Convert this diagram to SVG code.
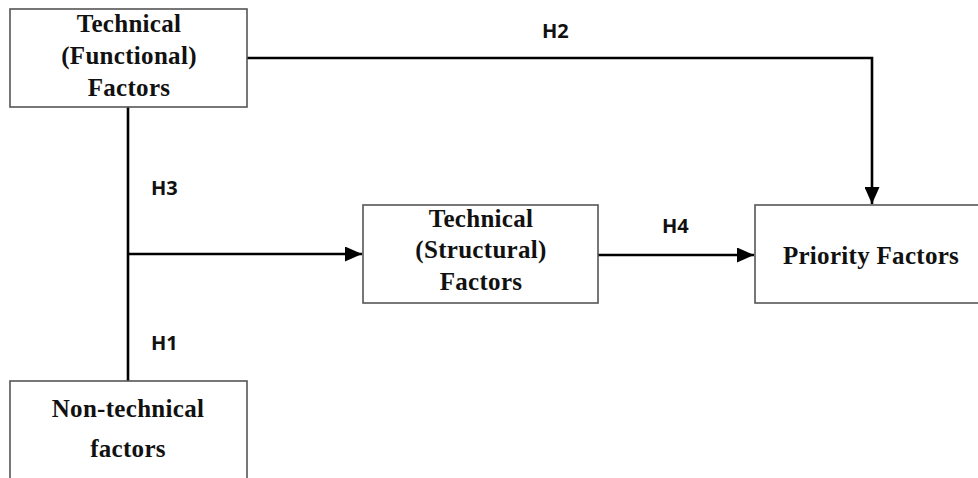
<svg xmlns="http://www.w3.org/2000/svg" width="978" height="478" viewBox="0 0 978 478">
<style>
.box{fill:#fff;stroke:#555;stroke-width:1.6}
.t{font-family:"Liberation Serif","Times New Roman",serif;font-weight:bold;font-size:25px;letter-spacing:0.3px;fill:#111;text-anchor:middle}
.h{font-family:"Open Sans","Liberation Sans",sans-serif;font-weight:bold;font-size:20px;fill:#111}
.c{fill:none;stroke:#000;stroke-width:2.6}
</style>
<defs>
<marker id="ar" viewBox="0 0 17 15" refX="17" refY="7.5" markerWidth="17" markerHeight="15" markerUnits="userSpaceOnUse" orient="auto">
<path d="M0,0 L17,7.5 L0,15 Z" fill="#000"/>
</marker>
</defs>
<rect width="978" height="478" fill="#fff"/>
<g id="connectors">
<path class="c" d="M128,107 V381"/>
<path class="c" d="M128,254 H362" marker-end="url(#ar)"/>
<path class="c" d="M247,58 H872 V204" marker-end="url(#ar)"/>
<path class="c" d="M598,255 H754" marker-end="url(#ar)"/>
<text class="h" x="542" y="38">H2</text>
<text class="h" x="151" y="195">H3</text>
<text class="h" x="662" y="233">H4</text>
<text class="h" x="151" y="350">H1</text>
</g>
<g id="functional">
<rect class="box" x="10" y="9" width="237" height="98"/>
<text class="t" x="129" y="32">Technical</text>
<text class="t" x="129" y="64">(Functional)</text>
<text class="t" x="129" y="96">Factors</text>
</g>
<g id="structural">
<rect class="box" x="363" y="205" width="235" height="98"/>
<text class="t" x="481" y="227">Technical</text>
<text class="t" x="481" y="258">(Structural)</text>
<text class="t" x="481" y="290">Factors</text>
</g>
<g id="priority">
<rect class="box" x="755" y="205" width="230" height="98"/>
<text class="t" x="871" y="264">Priority Factors</text>
</g>
<g id="nontechnical">
<rect class="box" x="10" y="381" width="237" height="110"/>
<text class="t" x="128" y="417">Non-technical</text>
<text class="t" x="128" y="457">factors</text>
</g>
</svg>
